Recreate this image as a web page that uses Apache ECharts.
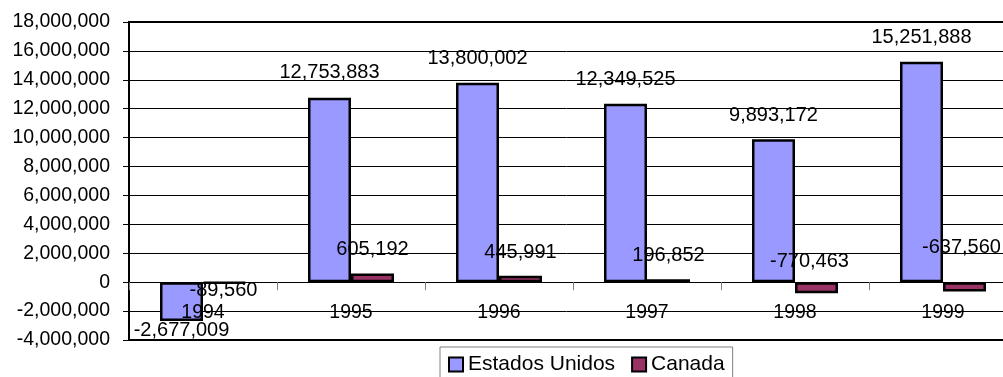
<!DOCTYPE html>
<html>
<head>
<meta charset="utf-8">
<script src="https://cdn.jsdelivr.net/npm/echarts@6/dist/echarts.min.js"></script>
<style>html,body{margin:0;padding:0;background:#fff;}#c{width:1003px;height:377px;}</style>
</head>
<body>
<div id="c"></div>
<script>
const categories = ['1994', '1995', '1996', '1997', '1998', '1999'];
const seriesNames = ['Estados Unidos', 'Canada'];
const estadosUnidos = [-2677009, 12753883, 13800002, 12349525, 9893172, 15251888];
const canada = [-89560, 605192, 445991, 196852, -770463, -637560];
const yTicks = { min: -4000000, max: 18000000, interval: 2000000 };

// label placement (side of the bar) and pixel nudges, mimicking the original's hand-placed labels
const usLabelSide = ['bottom', 'top', 'top', 'top', 'top', 'top'];
const caLabelSide = ['bottom', 'top', 'top', 'top', 'top', 'top'];
const usLabelNudge = [[0, 0], [0, -15], [0, -14], [0, -14], [0, -14], [0, -14]];
const caLabelNudge = [[-1, -4], [0, -14], [0, -13], [0, -13.5], [-7, -10.5], [-3, -24.5]];

const FONT = '"Liberation Sans", Arial, sans-serif';
const fmt = v => Number(v).toLocaleString('en-US');

function buildData(values, sides, nudges) {
  return values.map((v, i) => ({
    value: v,
    label: { position: sides[i], offset: nudges[i] }
  }));
}

const chart = echarts.init(document.getElementById('c'), null, { renderer: 'canvas' });
chart.setOption({
  animation: false,
  backgroundColor: '#fff',
  textStyle: { fontFamily: FONT },
  grid: {
    left: 129, top: 22, right: -14, bottom: 37,
    outerBoundsMode: 'none',
    containLabel: false,
    show: true, borderColor: '#000', borderWidth: 2, backgroundColor: 'transparent'
  },
  legend: {
    data: seriesNames,
    left: 440, top: 347,
    orient: 'horizontal',
    padding: [7, 8, 8, 8],
    itemGap: 16,
    itemWidth: 14, itemHeight: 14,
    borderColor: '#808080', borderWidth: 1,
    icon: 'rect',
    textStyle: { fontSize: 21, color: '#000', fontFamily: FONT }
  },
  xAxis: {
    type: 'category',
    data: categories,
    position: 'bottom',
    offset: 0,
    z: 3,
    axisLine: { show: true, onZero: false, lineStyle: { color: '#000', width: 1 } },
    axisTick: { show: true, length: 8, lineStyle: { color: '#808080', width: 1 } },
    axisLabel: { margin: 20, fontSize: 19.5, color: '#000', fontFamily: FONT },
    splitLine: { show: false }
  },
  yAxis: {
    type: 'value',
    min: yTicks.min, max: yTicks.max, interval: yTicks.interval,
    axisLine: { show: true, lineStyle: { color: '#000', width: 2 } },
    axisTick: { show: true, length: 6, lineStyle: { color: '#000', width: 1 } },
    axisLabel: { margin: 19, fontSize: 19.5, color: '#000', fontFamily: FONT, formatter: fmt },
    splitLine: { show: true, lineStyle: { color: '#000', width: 1 } }
  },
  series: [
    {
      name: seriesNames[0], type: 'bar',
      barWidth: 43, barGap: '0%',
      data: buildData(estadosUnidos, usLabelSide, usLabelNudge),
      itemStyle: { color: '#9999FF', borderColor: '#000', borderWidth: 2.5 },
      label: { show: true, distance: 0, fontSize: 20, color: '#000', fontFamily: FONT,
               formatter: p => fmt(p.value) }
    },
    {
      name: seriesNames[1], type: 'bar',
      barWidth: 43, barGap: '0%',
      data: buildData(canada, caLabelSide, caLabelNudge),
      itemStyle: { color: '#993366', borderColor: '#000', borderWidth: 2.5 },
      label: { show: true, distance: 0, fontSize: 20, color: '#000', fontFamily: FONT,
               formatter: p => fmt(p.value) }
    }
  ]
});

// Put the category axis on the zero line of the value axis (offset measured through the axis scale)
const yZero = chart.convertToPixel({ yAxisIndex: 0 }, 0);
const yBottom = chart.convertToPixel({ yAxisIndex: 0 }, yTicks.min);
chart.setOption({ xAxis: { offset: yZero - yBottom } });
</script>
</body>
</html>
